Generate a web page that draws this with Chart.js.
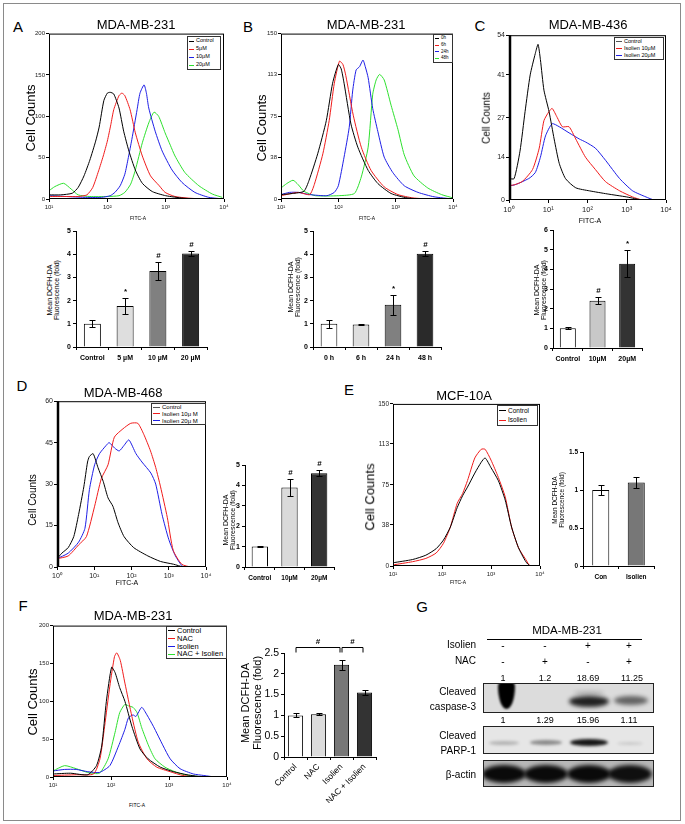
<!DOCTYPE html>
<html>
<head>
<meta charset="utf-8">
<script src="https://cdn.jsdelivr.net/npm/chart.js@4.4.1/dist/chart.umd.min.js"></script>
<style>
  body { margin: 0; background: #fff; }
  #fig { position: relative; width: 685px; height: 824px; overflow: hidden; font-family: "Liberation Sans", Arial, sans-serif; color: #000; }
  #frame { position: absolute; left: 3px; top: 3px; width: 676px; height: 816px; border: 1px solid #8a8a8a; }
  canvas { position: absolute; }
  .t { position: absolute; white-space: nowrap; transform: translate(-50%, -50%); line-height: 1; }
  .rot { transform: translate(-50%, -50%) rotate(-90deg); text-align: center; line-height: 1.05; }
  .lg { position: absolute; border: 1px solid #333; background: #fff; box-sizing: border-box; padding-left: 1px; }
  .lr { display: flex; align-items: center; line-height: 1; white-space: nowrap; }
  .blot { position: absolute; border: 1px solid #222; overflow: hidden; box-sizing: border-box; }
  .band { position: absolute; border-radius: 50%; }
</style>
</head>
<body>
<div id="fig"><div id="frame"></div></div>
<script>
// ---- histogram data: [log10 FITC-A, cell count] ----
const histA_control = [[1.0,5],[1.2,5],[1.4,7],[1.5,14],[1.6,28],[1.7,47],[1.8,70],[1.86,87],[1.94,119],[2.0,128],[2.05,129],[2.11,127],[2.2,110],[2.28,82],[2.37,58],[2.48,35],[2.6,19],[2.77,9],[3.0,4],[3.3,1],[3.6,0],[4.0,0]];
const histA_5uM = [[1.0,3],[1.3,3],[1.5,3],[1.65,5],[1.75,14],[1.85,34],[1.93,52],[2.0,70],[2.06,90],[2.11,108],[2.2,125],[2.25,128],[2.3,125],[2.39,108],[2.48,80],[2.6,52],[2.74,28],[2.89,16],[2.99,8],[3.16,3],[3.4,1],[3.7,0],[4.0,0]];
const histA_10uM = [[1.0,4],[1.3,3],[1.6,2],[1.9,2],[2.05,4],[2.13,8],[2.22,16],[2.3,30],[2.36,50],[2.42,72],[2.51,108],[2.56,128],[2.63,138],[2.67,128],[2.71,110],[2.82,82],[2.94,58],[3.11,35],[3.28,20],[3.5,8],[3.74,2],[4.0,0]];
const histA_20uM = [[1.0,10],[1.1,15],[1.25,19],[1.38,12],[1.5,5],[1.7,3],[2.0,3],[2.2,4],[2.3,8],[2.4,18],[2.48,35],[2.6,68],[2.71,92],[2.8,105],[2.88,100],[2.99,80],[3.08,65],[3.16,52],[3.33,32],[3.57,16],[3.8,6],[3.97,2]];

const histB_0h = [[1.0,4],[1.2,5],[1.4,7],[1.49,17],[1.64,41],[1.79,71],[1.9,105],[2.0,122],[2.05,118],[2.1,105],[2.22,68],[2.34,47],[2.52,26],[2.69,14],[2.92,5],[3.2,1],[3.5,0],[4.0,0]];
const histB_6h = [[1.0,3],[1.3,6],[1.5,4],[1.58,13],[1.73,41],[1.84,71],[1.93,105],[2.02,125],[2.08,122],[2.13,112],[2.26,76],[2.4,47],[2.57,26],[2.8,11],[3.04,4],[3.3,1],[3.6,0],[4.0,0]];
const histB_24h = [[1.0,4],[1.15,6],[1.3,6],[1.5,4],[1.8,3],[1.93,6],[2.0,12],[2.1,38],[2.19,65],[2.25,98],[2.31,117],[2.37,120],[2.43,126],[2.47,120],[2.52,110],[2.6,82],[2.69,61],[2.8,38],[2.95,24],[3.15,12],[3.39,6],[3.67,2],[4.0,0]];
const histB_48h = [[1.0,10],[1.1,14],[1.21,17],[1.3,13],[1.4,7],[1.6,3],[2.0,3],[2.28,5],[2.4,20],[2.52,47],[2.6,95],[2.66,108],[2.72,113],[2.8,108],[2.92,85],[3.04,63],[3.15,40],[3.32,21],[3.56,10],[3.8,4],[4.0,1]];

const histC_control = [[0.0,7],[0.13,7],[0.28,16],[0.41,29],[0.54,41],[0.67,48],[0.74,51],[0.8,46],[0.89,36],[1.02,29],[1.15,20],[1.28,12],[1.44,7],[1.7,4],[2.05,3],[2.5,2],[3.0,1],[3.4,0],[4.0,0]];
const histC_10uM = [[0.0,24],[0.03,5],[0.33,6],[0.6,10],[0.77,17],[0.89,26],[1.02,29],[1.1,30],[1.23,27],[1.36,24],[1.53,24],[1.7,20],[1.95,14],[2.2,10],[2.46,6],[2.82,3],[3.15,1],[3.4,0],[4.0,0]];
const histC_20uM = [[0.0,38],[0.03,5],[0.5,7],[0.67,9],[0.8,14],[0.93,21],[1.1,25],[1.28,24],[1.53,22],[1.79,20],[1.95,19],[2.2,17],[2.46,13],[2.82,7],[3.15,3],[3.49,1],[3.7,0],[4.0,0]];

const histD_control = [[0.0,3],[0.13,5],[0.3,7],[0.45,11],[0.58,19],[0.72,29],[0.82,38],[0.87,40],[0.97,41],[1.1,36],[1.24,31],[1.37,25],[1.5,22],[1.64,16],[1.8,11],[2.06,7],[2.44,4],[2.78,2],[3.13,1],[3.4,0],[4.0,0]];
const histD_10uM = [[0.0,3],[0.3,4],[0.58,8],[0.79,11],[1.01,22],[1.19,32],[1.37,37],[1.54,47],[1.77,50],[1.98,52],[2.17,52],[2.33,48],[2.51,42],[2.65,36],[2.78,29],[2.96,18],[3.12,6],[3.35,1],[3.6,0],[4.0,0]];
const histD_20uM = [[0.0,3],[0.3,5],[0.58,9],[0.75,14],[0.87,28],[1.01,37],[1.14,41],[1.32,44],[1.4,45],[1.55,43],[1.67,42],[1.8,44],[1.93,46],[2.12,41],[2.28,38],[2.52,34],[2.65,30],[2.82,19],[3.0,10],[3.18,4],[3.4,0],[4.0,0]];

const histE_control = [[1.0,3],[1.4,6],[1.67,10],[1.88,16],[2.03,24],[2.17,36],[2.31,54],[2.42,65],[2.52,73],[2.67,86],[2.8,96],[2.88,100],[3.0,91],[3.15,79],[3.29,61],[3.42,36],[3.56,17],[3.71,4],[3.8,0],[4.0,0]];
const histE_isolien = [[1.0,1],[1.4,4],[1.67,7],[1.88,12],[2.03,21],[2.17,36],[2.31,58],[2.42,67],[2.52,79],[2.67,100],[2.8,108],[2.88,108],[3.0,98],[3.15,82],[3.29,64],[3.42,36],[3.56,17],[3.71,6],[3.8,0],[4.0,0]];

const histF_control = [[1.0,4],[1.3,5],[1.6,3],[1.75,15],[1.84,41],[1.92,100],[2.01,145],[2.07,138],[2.15,118],[2.24,100],[2.36,67],[2.5,37],[2.64,24],[2.85,13],[3.08,7],[3.31,3],[3.6,0],[4.0,0]];
const histF_nac = [[1.0,2],[1.4,3],[1.7,4],[1.81,24],[1.89,67],[1.98,120],[2.06,159],[2.1,164],[2.16,154],[2.24,124],[2.36,80],[2.47,46],[2.62,24],[2.79,13],[3.02,7],[3.24,2],[3.5,0],[4.0,0]];
const histF_isolien = [[1.0,8],[1.2,10],[1.4,10],[1.6,7],[1.8,6],[1.98,15],[2.13,41],[2.24,63],[2.3,78],[2.38,82],[2.43,80],[2.53,92],[2.62,82],[2.73,67],[2.9,41],[3.02,24],[3.19,11],[3.42,4],[3.6,2],[3.8,0],[4.0,0]];
const histF_nacIsolien = [[1.0,8],[1.2,15],[1.4,11],[1.6,6],[1.8,5],[1.95,24],[2.07,59],[2.15,85],[2.24,96],[2.3,94],[2.38,92],[2.45,85],[2.53,65],[2.65,41],[2.76,24],[2.93,13],[3.1,7],[3.27,3],[3.45,1],[4.0,0]];

// ---- bar data: mean DCFH-DA fluorescence (fold) ----
const barA_cats = ['Control', '5 µM', '10 µM', '20 µM'];
const barA_mean = [1.0, 1.77, 3.28, 4.03];
const barA_err = [0.15, 0.33, 0.4, 0.1];
const barA_sig = ['', '*', '#', '#'];

const barB_cats = ['0 h', '6 h', '24 h', '48 h'];
const barB_mean = [1.0, 0.97, 1.82, 4.02];
const barB_err = [0.17, 0.03, 0.43, 0.1];
const barB_sig = ['', '', '*', '#'];

const barC_cats = ['Control', '10µM', '20µM'];
const barC_mean = [1.0, 2.4, 4.28];
const barC_err = [0.05, 0.18, 0.68];
const barC_sig = ['', '#', '*'];

const barD_cats = ['Control', '10µM', '20µM'];
const barD_mean = [1.0, 3.9, 4.6];
const barD_err = [0.02, 0.42, 0.15];
const barD_sig = ['', '#', '#'];

const barE_cats = ['Con', 'Isolien'];
const barE_mean = [1.0, 1.1];
const barE_err = [0.06, 0.07];

const barF_cats = ['Control', 'NAC', 'Isolien', 'NAC + Isolien'];
const barF_mean = [1.0, 1.03, 2.22, 1.55];
const barF_err = [0.05, 0.03, 0.12, 0.07];

// western blot text
const lanesIsolien = ['-', '-', '+', '+'];
const lanesNAC = ['-', '+', '-', '+'];
const casp3Ratio = ['1', '1.2', '18.69', '11.25'];
const parpRatio = ['1', '1.29', '15.96', '1.11'];

const BLACK = '#000', RED = '#f01c1c', BLUE = '#1f1fe6', GREEN = '#2ee02e';
const WHITE = '#ffffff', LIGHT = '#dedede', MID = '#808080', DARK = '#2a2a2a';

Chart.defaults.font.family = '"Liberation Sans", Arial, sans-serif';
Chart.defaults.color = '#000';
Chart.defaults.animation = false;

const fig = document.getElementById('fig');
const SUP = ['⁰', '¹', '²', '³', '⁴'];

// box around the histogram plot area
const plotBox = {
  id: 'plotBox',
  afterDatasetsDraw(chart, args, opts) {
    if (!opts.on) return;
    const a = chart.chartArea, ctx = chart.ctx;
    ctx.save();
    ctx.strokeStyle = '#000';
    ctx.lineWidth = 1;
    ctx.strokeRect(a.left + 0.5, a.top + 0.5, a.right - a.left - 1, a.bottom - a.top - 1);
    if (opts.thickLeft) {
      ctx.lineWidth = 2.5;
      ctx.beginPath();
      ctx.moveTo(a.left + 1, a.top);
      ctx.lineTo(a.left + 1, a.bottom);
      ctx.stroke();
    }
    ctx.restore();
  }
};

// error bars, significance marks and brackets on the bar charts
const errBars = {
  id: 'errBars',
  afterDatasetsDraw(chart, args, opts) {
    if (!opts.err) return;
    const ctx = chart.ctx, y = chart.scales.y, xs = chart.scales.x;
    const meta = chart.getDatasetMeta(0);
    const vals = chart.data.datasets[0].data;
    ctx.save();
    ctx.strokeStyle = '#000';
    ctx.fillStyle = '#000';
    ctx.lineWidth = 1;
    ctx.font = 'bold ' + opts.markSize + 'px "Liberation Sans", Arial, sans-serif';
    ctx.textAlign = 'center';
    ctx.textBaseline = 'bottom';
    opts.err.forEach((e, i) => {
      const px = Math.round(meta.data[i].x) + 0.5;
      const top = Math.round(y.getPixelForValue(vals[i] + e)) + 0.5;
      const bot = Math.round(y.getPixelForValue(vals[i] - e)) + 0.5;
      ctx.beginPath();
      ctx.moveTo(px, top); ctx.lineTo(px, bot);
      ctx.moveTo(px - opts.cap, top); ctx.lineTo(px + opts.cap, top);
      ctx.moveTo(px - opts.cap, bot); ctx.lineTo(px + opts.cap, bot);
      ctx.stroke();
      if (opts.sig && opts.sig[i]) ctx.fillText(opts.sig[i], px, top - 3);
    });
    (opts.brackets || []).forEach(b => {
      const x1 = xs.getPixelForValue(b.from) + 0.5, x2 = xs.getPixelForValue(b.to) - 1.5;
      const yy = Math.round(y.getPixelForValue(b.level)) + 0.5;
      ctx.beginPath();
      ctx.moveTo(x1, yy + 5); ctx.lineTo(x1, yy); ctx.lineTo(x2, yy); ctx.lineTo(x2, yy + 5);
      ctx.stroke();
      ctx.fillText(b.label, (x1 + x2) / 2, yy - 2);
    });
    ctx.restore();
  }
};
Chart.register(plotBox, errBars);

function makeCanvas(box, pad) {
  const [L, T, R, B] = box;
  const c = document.createElement('canvas');
  c.width = R - L + pad[0] + pad[2];
  c.height = B - T + pad[1] + pad[3];
  c.style.left = (L - pad[0]) + 'px';
  c.style.top = (T - pad[1]) + 'px';
  c.style.width = c.width + 'px';
  c.style.height = c.height + 'px';
  fig.appendChild(c);
  return c;
}

function hist(box, pad, decades, yTicks, series, f) {
  const cv = makeCanvas(box, pad);
  const exps = [];
  for (let e = decades[0]; e <= decades[1]; e++) exps.push(e);
  return new Chart(cv, {
    type: 'line',
    data: {
      datasets: series.map(s => ({
        data: s[0].map(p => ({ x: Math.pow(10, p[0]), y: p[1] })),
        borderColor: s[1],
        borderWidth: 1,
        pointRadius: 0,
        tension: 0.2
      }))
    },
    options: {
      responsive: false,
      devicePixelRatio: 1,
      layout: { padding: { top: pad[1], right: pad[2], left: 0, bottom: 0 } },
      plugins: { legend: { display: false }, tooltip: { enabled: false }, plotBox: { on: true, thickLeft: f.thickLeft } },
      scales: {
        x: {
          type: 'logarithmic',
          min: Math.pow(10, decades[0]),
          max: Math.pow(10, decades[1]),
          afterBuildTicks: s => { s.ticks = exps.map(e => ({ value: Math.pow(10, e) })); },
          afterFit: s => { s.height = pad[3]; },
          ticks: {
            autoSkip: false, maxRotation: 0, padding: 2, color: '#222',
            font: { size: f.x },
            callback: v => '10' + SUP[Math.round(Math.log10(v))]
          },
          grid: { drawOnChartArea: false, tickLength: 3, color: '#000' },
          border: { display: false }
        },
        y: {
          min: 0,
          max: yTicks[yTicks.length - 1],
          afterBuildTicks: s => { s.ticks = yTicks.map(v => ({ value: v })); },
          afterFit: s => { s.width = pad[0]; },
          ticks: { padding: 1, color: '#222', font: { size: f.y } },
          grid: { drawOnChartArea: false, tickLength: 3, color: '#000' },
          border: { display: false }
        }
      }
    }
  });
}

function bars(box, pad, cats, mean, err, colors, yMax, yStep, f) {
  const cv = makeCanvas(box, pad);
  const yTicks = [];
  for (let v = 0; v <= yMax + 1e-9; v += yStep) yTicks.push(Math.round(v * 10) / 10);
  return new Chart(cv, {
    type: 'bar',
    data: {
      labels: cats,
      datasets: [{
        data: mean,
        backgroundColor: colors,
        borderColor: '#000',
        borderWidth: 1,
        borderSkipped: 'bottom',
        barPercentage: f.bar,
        categoryPercentage: 1
      }]
    },
    options: {
      responsive: false,
      devicePixelRatio: 1,
      layout: { padding: { top: pad[1], right: pad[2], left: 0, bottom: 0 } },
      plugins: {
        legend: { display: false }, tooltip: { enabled: false },
        errBars: { err: err, sig: f.sig, cap: f.cap, markSize: f.mark, brackets: f.brackets }
      },
      scales: {
        x: {
          afterFit: s => { s.height = pad[3]; },
          ticks: {
            autoSkip: false, padding: f.xpad || 4, color: '#000',
            maxRotation: f.rot || 0, minRotation: f.rot || 0,
            font: { size: f.x, weight: f.bold ? 'bold' : 'normal' }
          },
          grid: { offset: true, drawOnChartArea: false, tickLength: 3, color: '#000' },
          border: { display: true, color: '#000' }
        },
        y: {
          min: 0, max: yMax,
          afterBuildTicks: s => { s.ticks = yTicks.map(v => ({ value: v })); },
          afterFit: s => { s.width = pad[0]; },
          ticks: {
            padding: 2, color: '#000', autoSkip: false,
            font: { size: f.y, weight: f.bold ? 'bold' : 'normal' },
            callback: v => String(v)
          },
          grid: { drawOnChartArea: false, tickLength: 3, color: '#000' },
          border: { display: true, color: '#000' }
        }
      }
    }
  });
}

function txt(s, x, y, size, cls, css) {
  const d = document.createElement('div');
  d.className = 't' + (cls ? ' ' + cls : '');
  d.innerHTML = s;
  d.style.left = x + 'px';
  d.style.top = y + 'px';
  d.style.fontSize = size + 'px';
  if (css) d.style.cssText += css;
  fig.appendChild(d);
  return d;
}

function legend(x, y, w, h, labels, colors, size, lineLen) {
  const d = document.createElement('div');
  d.className = 'lg';
  d.style.cssText += `left:${x}px;top:${y}px;width:${w}px;height:${h}px;font-size:${size}px;`;
  labels.forEach((l, i) => {
    const r = document.createElement('div');
    r.className = 'lr';
    r.style.height = ((h - 2) / labels.length) + 'px';
    r.innerHTML = `<span style="display:inline-block;width:${lineLen}px;border-top:1px solid ${colors[i]};margin-right:2px"></span>${l}`;
    d.appendChild(r);
  });
  fig.appendChild(d);
}

// ---------------- panel A ----------------
hist([49, 33, 224, 199], [20, 4, 9, 14], [1, 4], [0, 50, 100, 150, 200],
  [[histA_control, BLACK], [histA_5uM, RED], [histA_10uM, BLUE], [histA_20uM, GREEN]], { x: 6, y: 6 });
legend(187, 36, 34, 34, ['Control', '5μM', '10μM', '20μM'], [BLACK, RED, BLUE, GREEN], 5.5, 5);
bars([76, 231, 207, 347], [14, 16, 4, 20], barA_cats, barA_mean, barA_err, [WHITE, LIGHT, MID, DARK], 5, 1,
  { bar: 0.52, cap: 3, mark: 8, sig: barA_sig, x: 7, y: 7, bold: true });

// ---------------- panel B ----------------
hist([281, 33, 453, 199], [20, 4, 9, 14], [1, 4], [0, 38, 75, 113, 150],
  [[histB_0h, BLACK], [histB_6h, RED], [histB_24h, BLUE], [histB_48h, GREEN]], { x: 6, y: 6 });
legend(433, 34, 20, 29, ['0h', '6h', '24h', '48h'], [BLACK, RED, BLUE, GREEN], 4.5, 4);
bars([313, 231, 441, 347], [14, 16, 4, 20], barB_cats, barB_mean, barB_err, [WHITE, LIGHT, MID, DARK], 5, 1,
  { bar: 0.52, cap: 3, mark: 8, sig: barB_sig, x: 7, y: 7, bold: true });

// ---------------- panel C ----------------
hist([509, 34, 666, 200], [18, 4, 10, 14], [0, 4], [0, 14, 27, 41, 54],
  [[histC_control, BLACK], [histC_10uM, RED], [histC_20uM, BLUE]], { x: 7.5, y: 7, thickLeft: true });
legend(614, 37, 50, 23, ['Control', 'Isolien 10μM', 'Isolien 20μM'], ['#555', RED, BLUE], 5.5, 6);
bars([553, 230, 642, 348], [12, 20, 4, 16], barC_cats, barC_mean, barC_err, [WHITE, '#c8c8c8', '#333'], 6, 1,
  { bar: 0.54, cap: 3, mark: 8, sig: barC_sig, x: 7, y: 7, bold: true });

// ---------------- panel D ----------------
hist([57, 400, 206, 567], [20, 4, 10, 14], [0, 4], [0, 15, 30, 45, 60],
  [[histD_control, BLACK], [histD_10uM, RED], [histD_20uM, BLUE]], { x: 7, y: 7, thickLeft: true });
legend(151, 403, 55, 22, ['Control', 'Isolien 10μ M', 'Isolien 20μ M'], ['#555', RED, BLUE], 6, 7);
bars([245, 465, 334, 567], [12, 18, 4, 16], barD_cats, barD_mean, barD_err, [WHITE, '#dadada', '#333'], 5, 1,
  { bar: 0.55, cap: 3, mark: 8, sig: barD_sig, x: 6.5, y: 7, bold: true });

// ---------------- panel E ----------------
hist([393, 403, 540, 566], [20, 4, 10, 14], [1, 4], [0, 38, 75, 113, 150],
  [[histE_control, BLACK], [histE_isolien, RED]], { x: 6, y: 6.5 });
legend(497, 405, 41, 21, ['Control', 'Isolien'], [BLACK, RED], 6.5, 7);
bars([583, 452, 654, 566], [18, 10, 4, 16], barE_cats, barE_mean, barE_err, [WHITE, '#777'], 1.5, 0.5,
  { bar: 0.48, cap: 3, mark: 8, x: 6.5, y: 6.5, bold: true });

// ---------------- panel F ----------------
hist([53, 625, 227, 777], [20, 4, 9, 14], [1, 4], [0, 50, 100, 150, 200],
  [[histF_control, BLACK], [histF_nac, RED], [histF_isolien, BLUE], [histF_nacIsolien, GREEN]], { x: 6, y: 6 });
legend(166, 626, 61, 33, ['Control', 'NAC', 'Isolien', 'NAC + Isolien'], [BLACK, RED, BLUE, GREEN], 7.5, 7);
bars([284, 653, 376, 757], [20, 22, 6, 46], barF_cats, barF_mean, barF_err, [WHITE, '#dcdcdc', '#777', '#333'], 2.5, 0.5,
  { bar: 0.66, cap: 3, mark: 8, x: 8.5, y: 10.5, rot: 45, xpad: 2,
    brackets: [{ from: 0, to: 2, level: 2.65, label: '#' }, { from: 2, to: 3, level: 2.65, label: '#' }] });

// ---------------- labels ----------------
[['A', 18, 26], ['B', 248, 26], ['C', 480, 25], ['D', 22, 385], ['E', 349, 389], ['F', 23, 605], ['G', 422, 606]]
  .forEach(l => txt(l[0], l[1], l[2], 15));
[['MDA-MB-231', 136, 24], ['MDA-MB-231', 366, 24], ['MDA-MB-436', 588, 24], ['MDA-MB-468', 123, 392], ['MCF-10A', 464, 395], ['MDA-MB-231', 133, 615]]
  .forEach(l => txt(l[0], l[1], l[2], 13));
[[31, 118, 13], [262, 128, 13], [487, 118, 10], [33, 500, 10], [370, 497, 13], [33, 702, 13]]
  .forEach(l => txt('Cell Counts', l[0], l[1], l[2], 'rot'));
[[138, 218, 5], [367, 218, 5], [590, 220, 7], [127, 582, 7], [458, 582, 5], [137, 805, 5]]
  .forEach(l => txt('FITC-A', l[0], l[1], l[2]));
[[53, 290, 7], [294, 287, 7], [540, 290, 7], [229, 520, 7], [559, 500, 6.5], [252, 703, 11]]
  .forEach(l => txt('Mean DCFH-DA<br>Fluorescence (fold)', l[0], l[1], l[2], 'rot'));

// ---------------- panel G: western blot ----------------
const laneX = [503, 545, 588, 629];
const narrow = 'font-family:"Liberation Sans Narrow","Liberation Sans",Arial,sans-serif;';
txt('MDA-MB-231', 567, 631, 11.5);
const rule = document.createElement('div');
rule.style.cssText = 'position:absolute;left:487px;top:639px;width:155px;border-top:1px solid #000;';
fig.appendChild(rule);
txt('Isolien', 476, 645, 10, '', narrow + 'transform:translate(-100%,-50%)');
txt('NAC', 476, 661, 10, '', narrow + 'transform:translate(-100%,-50%)');
laneX.forEach((x, i) => {
  txt(lanesIsolien[i], x, 646, 10, '', narrow);
  txt(lanesNAC[i], x, 662, 10, '', narrow);
  txt(casp3Ratio[i], x + (i === 3 ? 3 : 0), 678, 9, '', narrow);
  txt(parpRatio[i], x, 720, 9, '', narrow);
});
txt('Cleaved', 476, 692, 10, '', narrow + 'transform:translate(-100%,-50%)');
txt('caspase-3', 476, 707, 10, '', narrow + 'transform:translate(-100%,-50%)');
txt('Cleaved', 476, 736, 10, '', narrow + 'transform:translate(-100%,-50%)');
txt('PARP-1', 476, 751, 10, '', narrow + 'transform:translate(-100%,-50%)');
txt('β-actin', 476, 775, 10, '', narrow + 'transform:translate(-100%,-50%)');

function blot(top, h, bg, bands) {
  const b = document.createElement('div');
  b.className = 'blot';
  b.style.cssText += `left:483px;top:${top}px;width:171px;height:${h}px;background:${bg};`;
  bands.forEach(bd => {
    const e = document.createElement('div');
    e.className = 'band';
    e.style.cssText += `left:${bd[0] - bd[2] / 2 - 483}px;top:${bd[1] - bd[3] / 2}px;width:${bd[2]}px;height:${bd[3]}px;` +
      `background:rgba(0,0,0,${bd[4]});filter:blur(${bd[5]}px);`;
    if (bd[6]) e.style.borderRadius = bd[6];
    b.appendChild(e);
  });
  fig.appendChild(b);
}
// [centerX, centerY(in blot), width, height, opacity, blur, radius]
blot(683, 30, '#dcdcdc', [[505, 10, 17, 30, 1, 1.2, '50% 50% 50% 50% / 25% 25% 75% 75%'], [588, 17, 40, 11, 0.85, 2], [630, 16, 34, 9, 0.55, 2], [588, 9, 30, 4, 0.2, 2]]);
blot(726, 28, '#e6e6e6', [[503, 16, 30, 4, 0.22, 1.5], [545, 15, 32, 5, 0.4, 1.5], [588, 15, 38, 7, 0.9, 1.5], [629, 16, 26, 3, 0.12, 1.5]]);
blot(760, 27, '#b8b8b8', [[503, 13, 44, 18, 0.95, 2], [545, 13, 44, 18, 0.95, 2], [588, 13, 44, 18, 0.95, 2], [629, 13, 44, 18, 0.92, 2]]);
</script>
</body>
</html>
